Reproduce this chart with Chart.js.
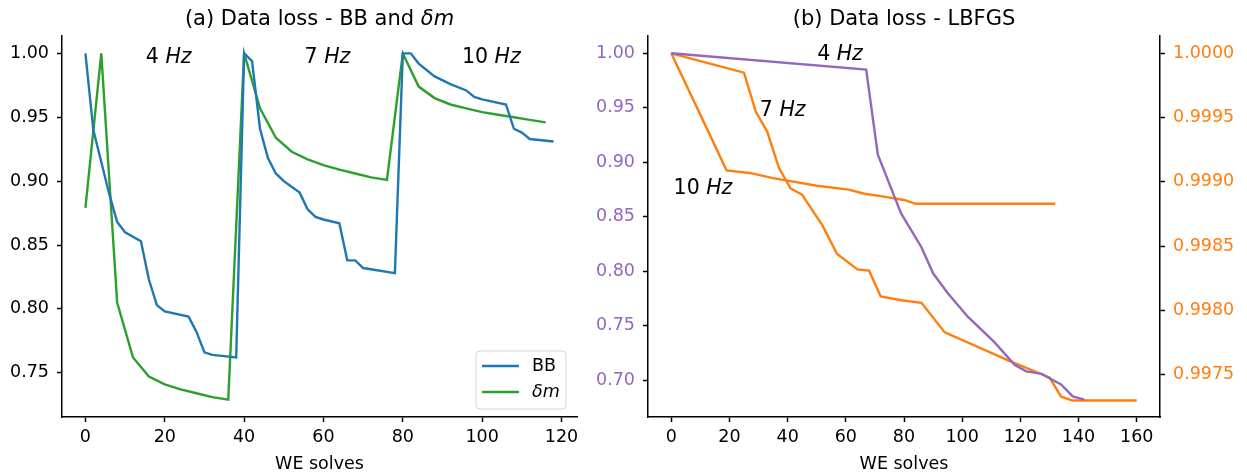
<!doctype html>
<html>
<head>
<title>Data loss - BB, dm and LBFGS</title>
<script src="https://cdn.jsdelivr.net/npm/chart.js@4.4.1/dist/chart.umd.min.js"></script>
<style>
body{margin:0;background:#fff;width:1247px;height:476px;overflow:hidden;position:relative}
canvas{position:absolute;top:0}
</style>
</head>
<body>
<canvas id="left" width="600" height="476" style="left:0"></canvas>
<canvas id="right" width="667" height="476" style="left:580px"></canvas>
<script>
// (a) BB and delta-m, x = WE solves
const bbX = [0,2,4,6,8,10,14,16,18,20,26,28,30,32,38,40,42,44,46,48,50,54,56,58,60,64,66,68,70,78,80,82,84,88,92,96,98,100,106,108,110,112,118];
const bbY = [1.000,0.940,0.915,0.890,0.868,0.860,0.853,0.823,0.803,0.798,0.794,0.782,0.766,0.764,0.762,1.000,0.994,0.941,0.918,0.906,0.900,0.891,0.878,0.872,0.870,0.867,0.838,0.838,0.832,0.828,1.000,1.000,0.992,0.982,0.976,0.971,0.966,0.964,0.960,0.941,0.938,0.933,0.931];
const dmX = [0,4,8,12,16,20,24,28,32,36,40,44,48,52,56,60,64,68,72,76,80,84,88,92,96,100,104,108,112,116];
const dmY = [0.879,1.000,0.805,0.762,0.747,0.741,0.737,0.734,0.731,0.729,1.000,0.957,0.934,0.923,0.917,0.9125,0.909,0.906,0.903,0.901,1.000,0.974,0.965,0.960,0.957,0.954,0.952,0.950,0.948,0.946];

// (b) LBFGS: 4 Hz on left axis, 7 Hz and 10 Hz on right axis
const lb4X = [0,67,71,79,86,90,95,102,111,118,122,127,134,138,142];
const lb4Y = [1.000,0.985,0.907,0.853,0.822,0.798,0.780,0.758,0.735,0.714,0.708,0.706,0.696,0.685,0.682];
const lb7X = [0,25,29,33,37,41,45,52,57,64,68,72,79,86,94,116,130,134,138,160];
const lb7Y = [1.00000,0.99985,0.99955,0.99939,0.99911,0.99895,0.99890,0.99866,0.99844,0.99832,0.99831,0.99811,0.99808,0.99806,0.99783,0.99761,0.99748,0.99733,0.99730,0.99730];
const lb10X = [0,19,27,35,40,50,61,66,72,80,84,132];
const lb10Y = [1.00000,0.99909,0.99907,0.99903,0.99901,0.99897,0.99894,0.99891,0.99889,0.99886,0.99883,0.99883];

const xTicksA = [0,20,40,60,80,100,120];
const xTicksB = [0,20,40,60,80,100,120,140,160];

const FONT = '"DejaVu Sans"';
const BLUE = '#1f77b4', GREEN = '#2ca02c', PURPLE = '#9467bd', ORANGE = '#ff7f0e';

function pts(xs, ys){ return xs.map((x,i)=>({x:x, y:ys[i]})); }

function line(label, xs, ys, color, axis){
  return {label:label, data:pts(xs,ys), borderColor:color, backgroundColor:color,
    borderWidth:2.4, pointRadius:0, tension:0, fill:false, yAxisID:axis||'y'};
}

// draw a string made of plain / italic parts, centred on cx
function mixed(ctx, parts, cx, cy, size, color){
  let w = 0;
  parts.forEach(p=>{ ctx.font=(p.i?'italic ':'')+size+'px '+FONT; p.w=ctx.measureText(p.t).width; w+=p.w; });
  let x = cx - w/2;
  ctx.fillStyle = color; ctx.textBaseline='middle'; ctx.textAlign='left';
  parts.forEach(p=>{ ctx.font=(p.i?'italic ':'')+size+'px '+FONT; ctx.fillText(p.t,x,cy); x+=p.w; });
}

const textPlugin = {
  id:'texts',
  afterDraw(chart, args, opts){
    const ctx = chart.ctx, a = chart.chartArea;
    ctx.save();
    mixed(ctx, opts.title, (a.left+a.right)/2, 19.5, 21, '#000');
    opts.labels.forEach(l=>{
      const xs = chart.scales.x, ys = chart.scales[l.axis||'y'];
      mixed(ctx, [{t:l.n+' '},{t:'Hz',i:true}], xs.getPixelForValue(l.x), ys.getPixelForValue(l.y), 20.5, '#000');
    });
    ctx.restore();
  }
};

const legendPlugin = {
  id:'boxLegend',
  afterDraw(chart, args, opts){
    if(!opts.show) return;
    const ctx = chart.ctx, a = chart.chartArea;
    const r = a.right-11, b = a.bottom-8, w = 90, h = 58;
    ctx.save();
    ctx.beginPath();
    ctx.roundRect(r-w, b-h, w, h, 4);
    ctx.fillStyle='rgba(255,255,255,0.8)'; ctx.fill();
    ctx.strokeStyle='#d6d6d6'; ctx.lineWidth=1; ctx.stroke();
    chart.data.datasets.forEach((d,i)=>{
      const y = b-h+15+i*26;
      ctx.strokeStyle=d.borderColor; ctx.lineWidth=2.4;
      ctx.beginPath(); ctx.moveTo(r-w+6,y); ctx.lineTo(r-w+43,y); ctx.stroke();
      ctx.fillStyle='#000'; ctx.textBaseline='middle'; ctx.textAlign='left';
      ctx.font=(i==1?'italic ':'')+'17.5px '+FONT;
      ctx.fillText(d.label, r-w+56, y);
    });
    ctx.restore();
  }
};

function xAxis(min, max, ticks){
  return {type:'linear', min:min, max:max,
    afterBuildTicks: s=>{ s.ticks = ticks.map(v=>({value:v})); },
    afterFit: s=>{ s.height = 59; },
    grid:{drawOnChartArea:false, drawTicks:true, tickLength:5, tickWidth:1.5, tickColor:'#000'},
    border:{display:true, color:'#000', width:1.5},
    ticks:{color:'#000', font:{family:FONT, size:17.5}, padding:5, maxRotation:0},
    title:{display:true, text:'WE solves', color:'#000', font:{family:FONT, size:17.5}, padding:{top:0,bottom:1}}};
}

function yAxis(min, max, step, digits, color, pos, width){
  return {type:'linear', position:pos, min:min, max:max,
    afterFit: s=>{ s.width = width; },
    grid:{drawOnChartArea:false, drawTicks:true, tickLength:5, tickWidth:1.5, tickColor:'#000'},
    border:{display:true, color:'#000', width:1.5},
    ticks:{stepSize:step, includeBounds:false, color:color, font:{family:FONT, size:17.5}, padding:8,
      callback: v=>v.toFixed(digits)}};
}

new Chart(document.getElementById('left'), {
  type:'line',
  data:{datasets:[line('BB', bbX, bbY, BLUE), line('δm', dmX, dmY, GREEN)]},
  options:{
    responsive:false, animation:false,
    layout:{padding:{top:36, right:23, left:0, bottom:0}},
    scales:{x:xAxis(-5.9, 123.9, xTicksA), y:yAxis(0.7154, 1.0136, 0.05, 2, '#000', 'left', 62)},
    plugins:{legend:{display:false}, tooltip:{enabled:false},
      texts:{title:[{t:'(a) Data loss - BB and '},{t:'δm',i:true}],
        labels:[{n:'4',x:21,y:0.9965},{n:'7',x:61,y:0.9965},{n:'10',x:102.3,y:0.9965}]},
      boxLegend:{show:true}}
  },
  plugins:[textPlugin, legendPlugin]
});

new Chart(document.getElementById('right'), {
  type:'line',
  data:{datasets:[line('4 Hz', lb4X, lb4Y, PURPLE, 'y'), line('7 Hz', lb7X, lb7Y, ORANGE, 'y2'), line('10 Hz', lb10X, lb10Y, ORANGE, 'y2')]},
  options:{
    responsive:false, animation:false,
    layout:{padding:{top:36, right:0, left:0, bottom:0}},
    scales:{x:xAxis(-8, 168, xTicksB),
      y:yAxis(0.6661, 1.0159, 0.05, 2, PURPLE, 'left', 68),
      y2:yAxis(0.997172, 1.000135, 0.0005, 4, ORANGE, 'right', 87)},
    plugins:{legend:{display:false}, tooltip:{enabled:false},
      texts:{title:[{t:'(b) Data loss - LBFGS'}],
        labels:[{n:'4',x:58,y:0.999},{n:'7',x:38.3,y:0.947},{n:'10',x:10.9,y:0.876}]},
      boxLegend:{show:false}}
  },
  plugins:[textPlugin, legendPlugin]
});
</script>
</body>
</html>
